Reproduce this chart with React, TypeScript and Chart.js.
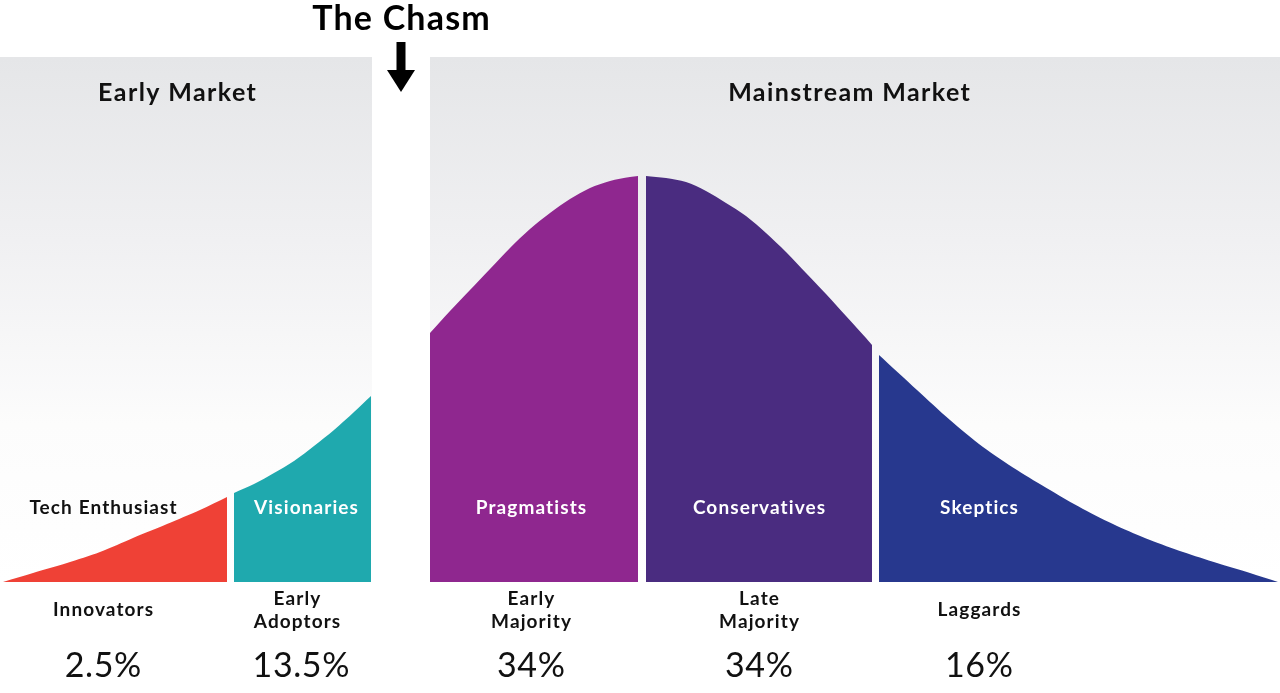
import React, { useEffect, useRef } from "react";
import { Chart, registerables } from "chart.js";

Chart.register(...registerables);

// Curve points: [position along the curve, height above baseline]
const innovatorsX = [3, 33, 67, 100, 133, 167, 200, 227];
const innovatorsY = [0, 9, 19, 30, 44, 58, 72, 85];
const earlyAdoptersX = [234, 254, 274, 294, 314, 334, 354, 371];
const earlyAdoptersY = [89, 98, 109, 121, 136, 152, 170, 186];
const earlyMajorityX = [430, 450, 470, 490, 510, 530, 550, 570, 590, 610, 630, 638];
const earlyMajorityY = [249, 271, 292, 313, 334, 353, 369, 383, 394, 401, 405, 406];
const lateMajorityX = [646, 666, 686, 706, 726, 746, 766, 786, 806, 826, 846, 866, 872];
const lateMajorityY = [406, 404, 400, 391, 379, 366, 349, 330, 309, 288, 266, 244, 237];
const laggardsX = [879, 917, 950, 983, 1017, 1050, 1083, 1117, 1150, 1183, 1217, 1250, 1278];
const laggardsY = [227, 192, 162, 135, 112, 92, 73, 56, 42, 30, 19, 9, 0];

const segmentColors = ["#ef4136", "#1fa9ae", "#8f278f", "#4a2c80", "#27388e"];
const segmentNames = ["Tech Enthusiast", "Visionaries", "Pragmatists", "Conservatives", "Skeptics"];
const segmentNameColors = ["#111111", "#ffffff", "#ffffff", "#ffffff", "#ffffff"];
const groupNames = [["Innovators"], ["Early", "Adoptors"], ["Early", "Majority"], ["Late", "Majority"], ["Laggards"]];
const percentages = ["2.5%", "13.5%", "34%", "34%", "16%"];
const labelCenters = [103, 306, 531, 759, 979];
const groupCenters = [103, 297, 531, 759, 979];
const percentCenters = [103, 301, 531, 759, 979];

const marketNames = ["Early Market", "Mainstream Market"];
const marketRanges = [[0, 372], [430, 1280]];
const marketTitleCenters = [177, 849];
const chasmTitle = "The Chasm";
const chasmCenter = 401;

const FONT = "Lato, 'Noto Sans', sans-serif";

function toPoints(xs: number[], ys: number[]) {
  return xs.map((x, i) => ({ x, y: ys[i] }));
}

export default function App() {
  const ref = useRef<HTMLCanvasElement | null>(null);

  useEffect(() => {
    if (!ref.current) return;
    const series = [
      toPoints(innovatorsX, innovatorsY),
      toPoints(earlyAdoptersX, earlyAdoptersY),
      toPoints(earlyMajorityX, earlyMajorityY),
      toPoints(lateMajorityX, lateMajorityY),
      toPoints(laggardsX, laggardsY),
    ];

    const backgroundPlugin = {
      id: "marketBackground",
      beforeDatasetsDraw(chart: any) {
        const { ctx, scales } = chart;
        const xs = scales.x;
        const ys = scales.y;
        const top = ys.getPixelForValue(525);
        const bottom = ys.getPixelForValue(0);
        ctx.save();
        marketRanges.forEach(([a, b]) => {
          const x0 = xs.getPixelForValue(a);
          const x1 = xs.getPixelForValue(b);
          const g = ctx.createLinearGradient(0, top, 0, bottom);
          g.addColorStop(0, "#e5e6e8");
          g.addColorStop(0.35, "#f0f0f2");
          g.addColorStop(0.7, "#fcfcfc");
          g.addColorStop(1, "#ffffff");
          ctx.fillStyle = g;
          ctx.fillRect(x0, top, x1 - x0, bottom - top);
        });
        ctx.restore();
      },
    };

    const textPlugin = {
      id: "chasmText",
      afterDatasetsDraw(chart: any) {
        const { ctx, scales } = chart;
        const xs = scales.x;
        const ys = scales.y;
        ctx.save();
        ctx.textAlign = "center";
        ctx.textBaseline = "middle";

        const put = (t: string, x: number, y: number, spacing: number) => {
          ctx.letterSpacing = `${spacing}px`;
          ctx.fillText(t, xs.getPixelForValue(x) + spacing / 2, ys.getPixelForValue(y));
        };

        // The Chasm title
        ctx.fillStyle = "#000000";
        ctx.font = `bold 34px ${FONT}`;
        put(chasmTitle, chasmCenter, 563, 1.2);

        // Arrow
        const cx = xs.getPixelForValue(chasmCenter);
        const yTop = ys.getPixelForValue(540);
        const yHead = ys.getPixelForValue(512);
        const yTip = ys.getPixelForValue(490);
        ctx.fillRect(cx - 4.5, yTop, 9, yHead - yTop + 1);
        ctx.beginPath();
        ctx.moveTo(cx - 14, yHead);
        ctx.lineTo(cx + 14, yHead);
        ctx.lineTo(cx, yTip);
        ctx.closePath();
        ctx.fill();

        // Market titles
        ctx.font = `bold 25px ${FONT}`;
        ctx.fillStyle = "#111111";
        marketNames.forEach((name, i) => put(name, marketTitleCenters[i], 489, 1.4));

        // Segment names
        ctx.font = `bold 19px ${FONT}`;
        segmentNames.forEach((name, i) => {
          ctx.fillStyle = segmentNameColors[i];
          put(name, labelCenters[i], 74, 1.1);
        });

        // Group names
        ctx.fillStyle = "#111111";
        ctx.font = `bold 19px ${FONT}`;
        groupNames.forEach((lines, i) => {
          if (lines.length === 1) {
            put(lines[0], groupCenters[i], -28, 1.1);
          } else {
            put(lines[0], groupCenters[i], -17, 1.1);
            put(lines[1], groupCenters[i], -40, 1.1);
          }
        });

        // Percentages
        ctx.font = `400 34px ${FONT}`;
        percentages.forEach((p, i) => put(p, percentCenters[i], -84, 0.6));
        ctx.restore();
      },
    };

    const chart = new Chart(ref.current, {
      type: "line",
      data: {
        datasets: series.map((data, i) => ({
          label: segmentNames[i],
          data,
          borderColor: segmentColors[i],
          backgroundColor: segmentColors[i],
          borderWidth: 0,
          pointRadius: 0,
          fill: "origin",
          tension: 0.3,
        })),
      },
      options: {
        animation: false,
        responsive: false,
        devicePixelRatio: 1,
        layout: { padding: 0 },
        plugins: {
          legend: { display: false },
          tooltip: { enabled: false },
          title: { display: false },
        },
        scales: {
          x: { type: "linear", min: 0, max: 1280, display: false },
          y: { type: "linear", min: -111, max: 582, display: false },
        },
      },
      plugins: [backgroundPlugin, textPlugin],
    });
    return () => chart.destroy();
  }, []);

  return (
    <div style={{ position: "absolute", left: 0, top: 0, width: 1280, height: 693, background: "#ffffff" }}>
      <canvas ref={ref} width={1280} height={693} style={{ display: "block" }} />
    </div>
  );
}
